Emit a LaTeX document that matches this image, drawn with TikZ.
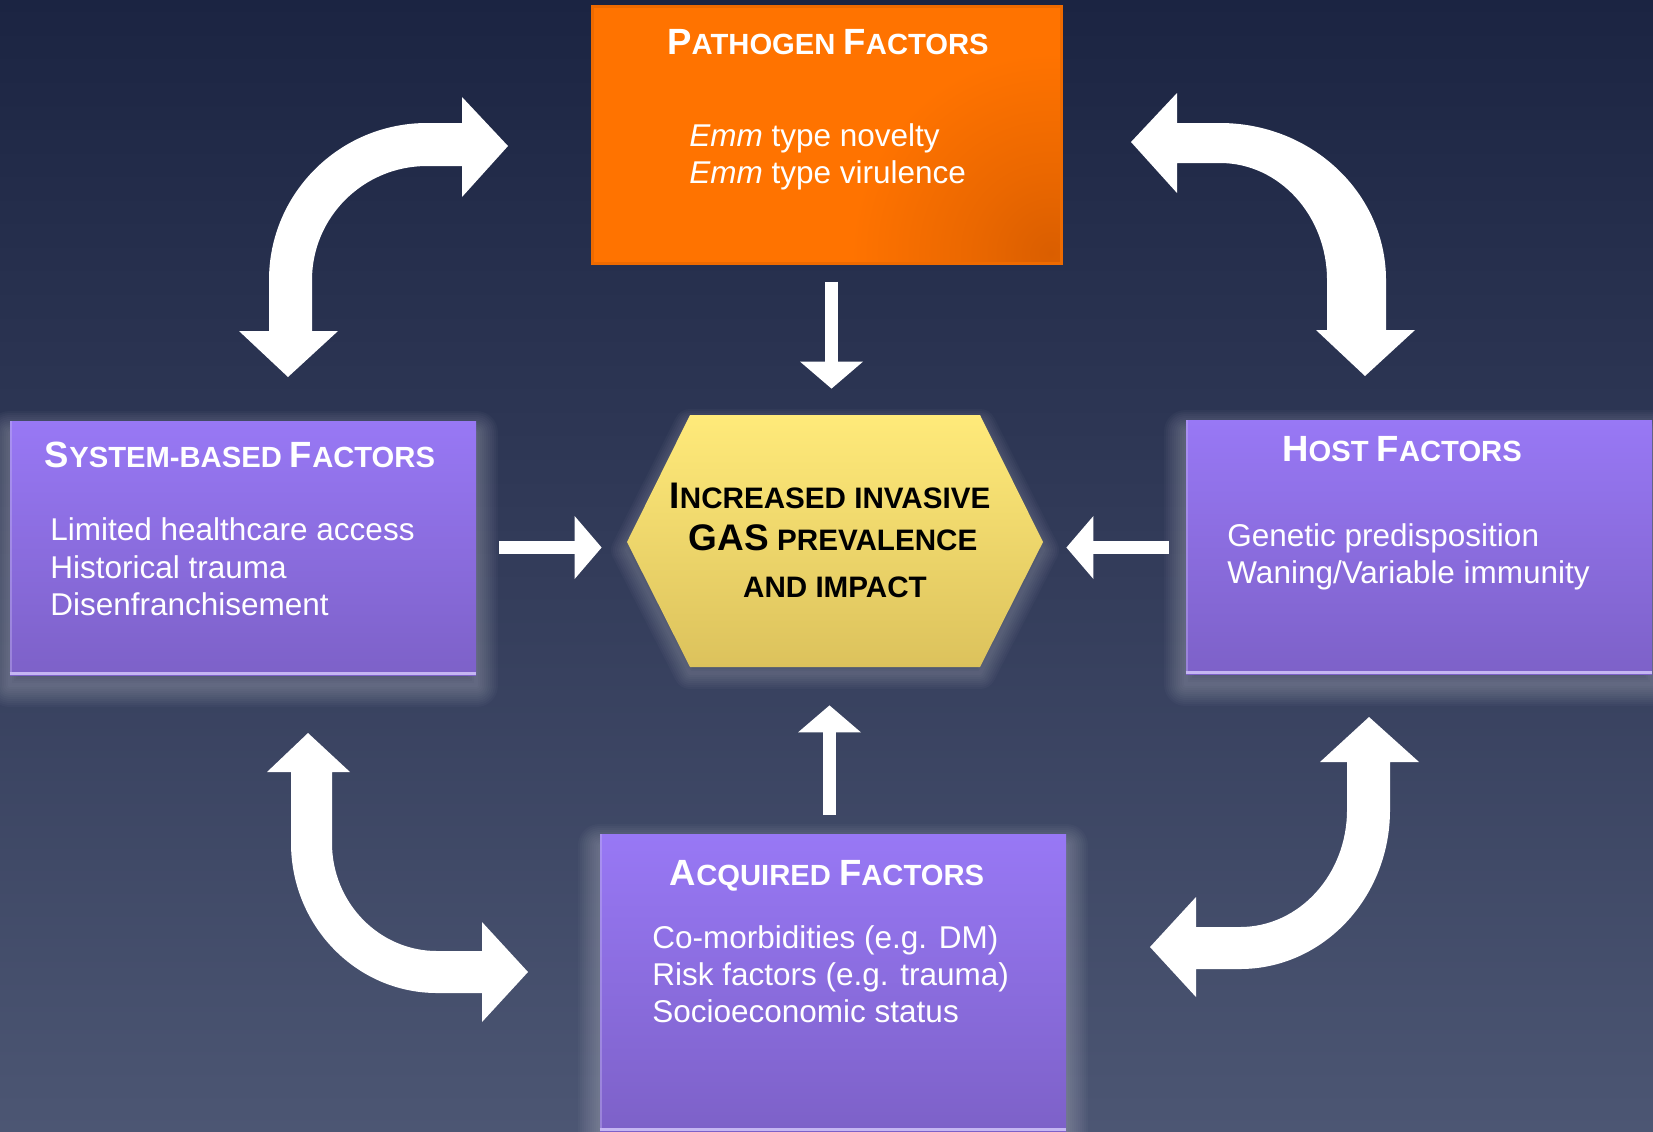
\documentclass[tikz,border=0pt]{standalone}
\usepackage{fontspec}
\setmainfont{Liberation Sans}
\usetikzlibrary{calc,fit,arrows.meta}

\definecolor{bgtop}{HTML}{1B2442}
\definecolor{bgmid}{HTML}{333C5A}
\definecolor{bgbot}{HTML}{4C5673}
\definecolor{orgmain}{HTML}{FF7300}
\definecolor{orgdark}{HTML}{DA5E00}
\definecolor{orgedge}{HTML}{EE6A00}
\definecolor{purtop}{HTML}{9878F5}
\definecolor{purbot}{HTML}{7D61C8}
\definecolor{purhi}{HTML}{C5B6F2}
\definecolor{hextop}{HTML}{FFEA7A}
\definecolor{hexbot}{HTML}{DCC25C}
\definecolor{halo}{HTML}{D8D8E0}

% darker corner glow of the orange box
\pgfdeclareradialshading{orgcorner}{\pgfpoint{0bp}{0bp}}{%
  color(0bp)=(orgdark); color(4bp)=(orgmain!45!orgdark);
  color(10bp)=(orgmain); color(100bp)=(orgmain)}

% full-height capitals inside small-cap titles
\newcommand\Cap[1]{{\fontsize{18.25pt}{22pt}\selectfont#1}}
\newcommand\HCap[1]{{\fontsize{18.5pt}{22pt}\selectfont#1}}

\pgfdeclarelayer{bg}
\pgfdeclarelayer{glow}
\pgfsetlayers{bg,glow,main}

\tikzset{
  purplebox/.style={inner sep=0pt, top color=purtop, bottom color=purbot},
  titletext/.style={text=white, inner sep=0pt, anchor=base,
    font=\bfseries\fontsize{14.6pt}{18pt}\selectfont},
  bodytext/.style={text=white, inner sep=0pt, anchor=base west,
    font=\fontsize{15.75pt}{18.5pt}\selectfont},
  hextext/.style={text=black, inner sep=0pt, anchor=base,
    font=\bfseries\fontsize{14.8pt}{18pt}\selectfont},
  bigarrow/.style={fill=white},
  straightarrow/.style={draw=white, line width=6.5pt,
    -{Triangle[length=13.5pt, width=31.5pt, line width=0pt]}},
  glowline/.style={draw=halo, opacity=0.03, line join=round},
}

\begin{document}
\begin{tikzpicture}[x=0.5pt,y=-0.5pt]
\useasboundingbox (0,0) rectangle (1653,1131);

\begin{pgfonlayer}{bg}
  \shade[top color=bgtop, bottom color=bgbot, middle color=bgmid] (0,0) rectangle (1653,1131);
\end{pgfonlayer}

% boxes
\node[fit={(592,6) (1061,263)}, inner sep=0pt, fill=orgmain, draw=orgedge, line width=1.5pt,
  path picture={\shade[shading=orgcorner]
    ($(path picture bounding box.south east)+(-510,-510)$) rectangle
    ($(path picture bounding box.south east)+(490,490)$);}] (pathbox) {};
\node[fit={(10,421) (476,675)}, purplebox] (sysbox) {};
\node[fit={(1186,420) (1652,674)}, purplebox] (hostbox) {};
\node[fit={(600,834) (1066,1131)}, purplebox] (acqbox) {};

% light lower edges of the purple boxes
\foreach \b in {sysbox,hostbox,acqbox}{
  \draw[purhi, line width=1.5pt] ($(\b.south west)+(0,-1.5)$) -- ($(\b.south east)+(0,-1.5)$);
  \draw[purhi, opacity=0.4, line width=1pt] ($(\b.south west)+(1,-1.5)$) -- ($(\b.north west)+(1,0)$);
}

% central hexagon
\coordinate (h1) at (690,415);
\coordinate (h2) at (980,415);
\coordinate (h3) at (1043,542);
\coordinate (h4) at (980,667);
\coordinate (h5) at (690,667);
\coordinate (h6) at (627,542);
\shade[top color=hextop, bottom color=hexbot] (h1) -- (h2) -- (h3) -- (h4) -- (h5) -- (h6) -- cycle;
\node[fit={(627,415) (1043,667)}, inner sep=0pt] (hexc) {};

% soft halos behind boxes and hexagon, strongest below
\begin{pgfonlayer}{glow}
  \foreach \b in {sysbox,hostbox,acqbox}{
    \foreach \w in {44,40,...,4}{
      \draw[glowline, line width=\w*0.5pt] ($(\b.north west)+(0,12)$) rectangle ($(\b.south east)+(0,10)$);
    }
  }
  \foreach \w in {32,28,...,4}{
    \draw[glowline, line width=\w*0.5pt] ($(h1)+(0,10)$) -- ($(h2)+(0,10)$) -- ($(h3)+(0,8)$)
      -- ($(h4)+(0,6)$) -- ($(h5)+(0,6)$) -- ($(h6)+(0,8)$) -- cycle;
  }
\end{pgfonlayer}

% texts
\node[titletext] (pathT) at (828,54) {\Cap{P}ATHOGEN \Cap{F}ACTORS};
\node[bodytext] (pathL1) at (689,146) {\textit{Emm} type novelty};
\node[bodytext] (pathL2) at (689,183) {\textit{Emm} type virulence};

\node[titletext] (sysT) at (240,467) {\Cap{S}YSTEM-BASED \Cap{F}ACTORS};
\node[bodytext] (sysL1) at (50,540) {Limited healthcare access};
\node[bodytext] (sysL2) at (50,578) {Historical trauma};
\node[bodytext] (sysL3) at (50,615) {Disenfranchisement};

\node[titletext] (hostT) at (1402,461) {\Cap{H}OST \Cap{F}ACTORS};
\node[bodytext] (hostL1) at (1227,546) {Genetic predisposition};
\node[bodytext] (hostL2) at (1227,583) {Waning/Variable immunity};

\node[titletext] (acqT) at (827,885) {\Cap{A}CQUIRED \Cap{F}ACTORS};
\node[bodytext] (acqL1) at (652,948) {Co-morbidities (e.g. DM)};
\node[bodytext] (acqL2) at (652,985) {Risk factors (e.g. trauma)};
\node[bodytext] (acqL3) at (652,1022) {Socioeconomic status};

\node[hextext] (hexL1) at (830,508) {\HCap{I}NCREASED INVASIVE};
\node[hextext] (hexL2) at (833,550) {\HCap{GAS} PREVALENCE};
\node[hextext] (hexL3) at (835,597) {AND IMPACT};

% straight arrows into the hexagon
\draw[straightarrow] ($(pathbox.south)+(5,17)$) -- ($(hexc.north)+(-3.5,-26)$);
\draw[straightarrow] ($(acqbox.north)+(-3.5,-19)$) -- ($(hexc.south)+(-5.5,38)$);
\draw[straightarrow] ($(sysbox.east)+(23,-0.5)$) -- ($(hexc.west)+(-25,6.5)$);
\draw[straightarrow] ($(hostbox.west)+(-17,0.5)$) -- ($(hexc.east)+(23,6.5)$);

% curved double arrows between neighbouring boxes
\fill[bigarrow] (508,146) -- (462,97) -- (462,123) -- (427,123)
  .. controls (339.7,123) and (269,193.3) .. (269,280) -- (269,331) -- (239,331)
  -- (288,377) -- (338,331) -- (312,331) -- (312,280)
  .. controls (312,217) and (363.5,166) .. (427,166) -- (462,166) -- (462,197) -- cycle;

\fill[bigarrow] (1131,142) -- (1177,93) -- (1177,123) -- (1220,123)
  .. controls (1311.7,123) and (1386,193.3) .. (1386,280) -- (1386,330) -- (1415,330)
  -- (1365,376) -- (1316,330) -- (1327,330) -- (1327,280)
  .. controls (1327,215.4) and (1279.1,163) .. (1220,163) -- (1177,163) -- (1177,193) -- cycle;

\fill[bigarrow] (308,733) -- (350,772) -- (332,772) -- (332,843)
  .. controls (332,902.6) and (379,951) .. (437,951) -- (482,951) -- (482,922)
  -- (528,972) -- (482,1022) -- (482,993) -- (437,993)
  .. controls (356.4,993) and (291,925.8) .. (291,843) -- (291,772) -- (267,772) -- cycle;

\fill[bigarrow] (1369,717) -- (1419,762) -- (1390,762) -- (1390,810)
  .. controls (1390,897.8) and (1322.8,969) .. (1240,969) -- (1196,969) -- (1196,997)
  -- (1150,947) -- (1196,897) -- (1196,927) -- (1240,927)
  .. controls (1299.1,927) and (1347,874.6) .. (1347,810) -- (1347,762) -- (1320,762) -- cycle;

\end{tikzpicture}
\end{document}
